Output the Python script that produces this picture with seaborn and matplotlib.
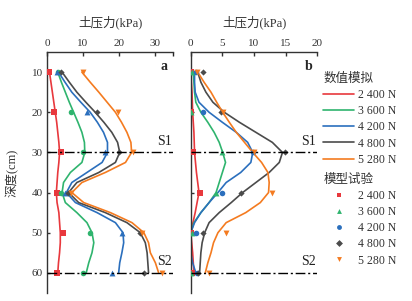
import numpy as np
import pandas as pd
import matplotlib.pyplot as plt
import seaborn as sns
from matplotlib.lines import Line2D

sns.set_style("ticks")
plt.rcParams['font.family'] = ['Liberation Serif', 'Noto Sans CJK SC']
plt.rcParams['axes.unicode_minus'] = False

# depths (cm) for the simulated curves and for the test points
sim_depth = [10, 12.5, 15, 17.5, 20, 22.5, 25, 27.5, 30, 32.5, 35, 37.5, 40,
             42.5, 45, 47.5, 50, 52.5, 55, 57.5, 60]
test_depth = [10, 20, 30, 40, 50, 60]
loads = ["2 400 N", "3 600 N", "4 200 N", "4 800 N", "5 280 N"]
colors = ["#e8383d", "#2fb46e", "#2b6fbd", "#4b4b4b", "#f47b20"]

# panel a: numerical simulation (kPa)
sim_a_2400 = [0.7, 1.1, 1.5, 1.9, 2.3, 2.7, 3.0, 3.3, 3.5, 3.3, 3.0, 2.8, 2.6, 2.8, 3.3, 3.5, 3.7, 3.7, 3.5, 3.2, 3.0]
sim_a_3600 = [3.0, 4.0, 5.1, 6.2, 7.4, 8.6, 9.7, 10.4, 10.5, 9.7, 6.5, 4.6, 4.2, 5.1, 8.3, 11.1, 12.5, 13.0, 12.5, 11.6, 10.9]
sim_a_4200 = [3.2, 5.0, 6.9, 9.4, 12.0, 14.0, 15.7, 16.8, 16.8, 15.3, 11.1, 6.9, 5.4, 7.9, 13.9, 19.0, 21.1, 21.3, 20.8, 20.2, 19.9]
sim_a_4800 = [4.2, 6.2, 8.3, 10.8, 13.4, 15.8, 18.0, 19.6, 20.2, 19.0, 14.4, 8.3, 6.0, 8.8, 16.2, 22.2, 25.9, 27.3, 27.8, 28.0, 28.2]
sim_a_5280 = [9.7, 12.0, 14.4, 16.7, 19.0, 20.7, 22.2, 23.3, 23.5, 21.8, 16.2, 9.7, 6.9, 10.2, 17.6, 23.6, 26.9, 28.2, 28.7, 30.1, 31.0]

# panel a: model test
test_a_2400 = [0.5, 1.9, 3.8, 2.8, 4.4, 2.8]
test_a_3600 = [3.0, 6.8, 10.0, 3.8, 12.0, 10.0]
test_a_4200 = [2.8, 11.0, 16.0, 5.0, 20.8, 18.0]
test_a_4800 = [3.8, 13.8, 20.0, 5.8, 25.9, 27.0]
test_a_5280 = [10.0, 19.8, 24.0, 6.8, 26.5, 31.8]

# panel b: numerical simulation (kPa)
sim_b_2400 = [0.05, 0.1, 0.2, 0.25, 0.3, 0.4, 0.5, 0.55, 0.6, 0.75, 0.9, 1.1, 1.3, 1.0, 0.7, 0.35, 0.0, 0.15, 0.3, 0.4, 0.5]
sim_b_3600 = [0.4, 0.5, 0.6, 0.8, 1.6, 2.7, 3.7, 4.5, 5.05, 5.5, 5.0, 4.5, 4.0, 2.9, 1.6, 0.5, 0.0, 0.0, 0.0, 0.0, 0.0]
sim_b_4200 = [0.6, 0.6, 0.7, 1.3, 2.9, 5.0, 7.2, 9.0, 9.8, 9.5, 7.9, 5.6, 4.3, 2.9, 1.6, 0.6, 0.0, 0.0, 0.0, 0.3, 0.8]
sim_b_4800 = [1.1, 1.6, 2.4, 3.5, 5.3, 7.7, 10.3, 12.9, 14.5, 14.0, 12.4, 10.3, 8.2, 6.4, 4.5, 2.9, 2.2, 1.8, 1.6, 1.5, 1.4]
sim_b_5280 = [1.1, 2.1, 3.2, 4.1, 5.05, 6.1, 7.2, 8.5, 9.8, 11.2, 12.2, 12.4, 12.3, 11.0, 8.7, 5.6, 4.3, 3.6, 3.2, 2.7, 2.3]

# panel b: model test
test_b_2400 = [0.0, 0.0, 0.4, 1.5, 0.05, 0.2]
test_b_3600 = [0.15, 0.1, 5.0, 4.0, 0.15, 0.1]
test_b_4200 = [0.9, 2.0, 9.9, 5.0, 0.9, 1.0]
test_b_4800 = [2.0, 4.8, 14.9, 7.9, 2.0, 1.2]
test_b_5280 = [1.0, 5.05, 10.0, 12.9, 5.5, 2.9]

sim_a = [sim_a_2400, sim_a_3600, sim_a_4200, sim_a_4800, sim_a_5280]
test_a = [test_a_2400, test_a_3600, test_a_4200, test_a_4800, test_a_5280]
sim_b = [sim_b_2400, sim_b_3600, sim_b_4200, sim_b_4800, sim_b_5280]
test_b = [test_b_2400, test_b_3600, test_b_4200, test_b_4800, test_b_5280]

markers_a = ["s", "o", "^", "D", "v"]
markers_b = ["s", "^", "o", "D", "v"]
msizes = {"s": 14, "o": 16, "^": 18, "D": 10, "v": 18}

fig = plt.figure(figsize=(4.12, 3.01), dpi=100)
ax_a = fig.add_axes([0.114, 0.027, 0.306, 0.800])
ax_b = fig.add_axes([0.463, 0.027, 0.307, 0.800])

def draw_panel(ax, sims, tests, markers, xmax, xticks, letter):
    for i in range(5):
        sns.lineplot(x=sims[i], y=sim_depth, orient="y", color=colors[i],
                     lw=1.2, ax=ax, legend=False)
    for i in range(5):
        sns.scatterplot(x=tests[i], y=test_depth, color=colors[i],
                        marker=markers[i], s=msizes[markers[i]],
                        linewidth=0, ax=ax, legend=False, zorder=4)
    for d, lab in [(30, "S1"), (60, "S2")]:
        ax.axhline(d, color="black", lw=1.0, ls=(0, (7, 2, 1.5, 2)), zorder=5)
        ax.text(xmax * 0.99, d - 1.2, lab, ha="right", va="bottom",
                fontsize=10, color="#222222")
    ax.text(xmax * 0.96, 8.5, letter, ha="right", va="center",
            fontsize=10, fontweight="bold")
    ax.set_xlim(0, xmax)
    ax.set_ylim(65, 5)
    ax.set_xticks(xticks)
    ax.set_yticks(test_depth)
    ax.xaxis.tick_top()
    ax.xaxis.set_label_position("top")
    ax.set_xlabel("土压力(kPa)", fontsize=9, labelpad=9, color="#333333")
    ax.set_ylabel("")
    for s in ["right", "bottom"]:
        ax.spines[s].set_visible(False)
    for s in ["left", "top"]:
        ax.spines[s].set_linewidth(1.0)
        ax.spines[s].set_color("#333333")
    ax.tick_params(axis="both", direction="in", length=3, width=1.0,
                   labelsize=8, colors="#333333", pad=3)
    ax.tick_params(axis="y", length=2.5)
    ax.grid(False)

draw_panel(ax_a, sim_a, test_a, markers_a, 35, [0, 10, 20, 30], "a")
draw_panel(ax_b, sim_b, test_b, markers_b, 20, [0, 5, 10, 15, 20], "b")
ax_a.set_xticks([35], minor=True)
ax_a.tick_params(axis="x", which="minor", direction="in", length=3, width=1.0, top=True, bottom=False)
ax_a.set_ylabel("深度(cm)", fontsize=9, labelpad=9, color="#333333")
ax_b.tick_params(axis="y", labelleft=False)

# legends
sim_handles = [Line2D([], [], color=c, lw=1.2) for c in colors]
test_handles = [Line2D([], [], color=colors[i], marker=markers_b[i], ls="none",
                       markersize=3.5, markeredgewidth=0) for i in range(5)]
leg1 = fig.legend(sim_handles, loads, title="数值模拟", loc="upper left",
                  bbox_to_anchor=(0.765, 0.785), frameon=False, fontsize=8.5,
                  title_fontsize=9, handlelength=2.6, handletextpad=0.3,
                  labelspacing=0.35, borderpad=0.2)
leg1._legend_box.align = "left"
leg2 = fig.legend(test_handles, loads, title="模型试验", loc="upper left",
                  bbox_to_anchor=(0.765, 0.45), frameon=False, fontsize=8.5,
                  title_fontsize=9, handlelength=2.6, handletextpad=0.3,
                  labelspacing=0.35, borderpad=0.2)
leg2._legend_box.align = "left"
for lg in (leg1, leg2):
    for t in lg.get_texts():
        t.set_color("#333333")
    lg.get_title().set_color("#333333")

fig.savefig("out.png", dpi=100)
